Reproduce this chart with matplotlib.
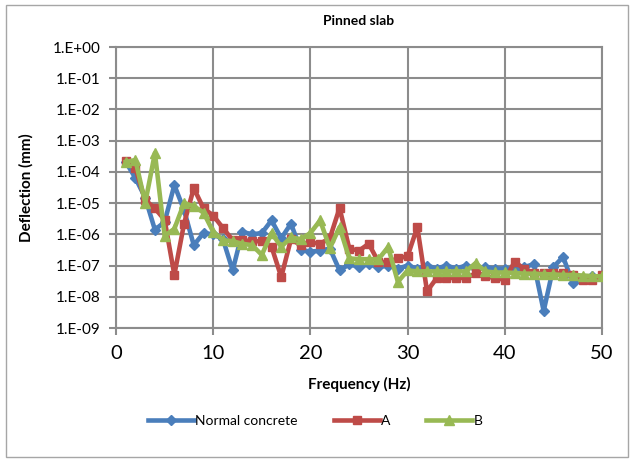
import math
import matplotlib
matplotlib.use('Agg')
import matplotlib.pyplot as plt
from matplotlib.patches import Rectangle
from matplotlib.ticker import FixedLocator, FuncFormatter

plt.rcParams['font.family'] = ['Lato', 'DejaVu Sans']

# Frequency steps (Hz)
freq = list(range(1, 51))

# Deflection (mm) for each slab type
normal_concrete = [
    2.1e-4, 6.3e-5, 1.5e-5, 1.4e-6, 2.5e-6, 3.8e-5, 6e-6, 4.5e-7, 1.1e-6, 1.0e-6,
    7e-7, 7e-8, 1.2e-6, 1.0e-6, 1.1e-6, 2.8e-6, 7.5e-7, 2.2e-6, 3.2e-7, 2.8e-7,
    3e-7, 3.5e-7, 7e-8, 1.1e-7, 9e-8, 1.1e-7, 9e-8, 1e-7, 8e-8, 1e-7,
    8e-8, 1e-7, 8e-8, 1e-7, 8e-8, 1e-7, 8e-8, 9e-8, 8e-8, 8e-8,
    8e-8, 9e-8, 1.1e-7, 3.5e-9, 9e-8, 1.9e-7, 2.7e-8, 4e-8, 4.5e-8, 4.5e-8,
]
slab_a = [
    2.2e-4, 1.3e-4, 1.25e-5, 6.8e-6, 2.9e-6, 5e-8, 2.2e-6, 3e-5, 6.8e-6, 4e-6,
    1.6e-6, 6.5e-7, 6.5e-7, 6e-7, 6e-7, 4e-7, 4.3e-8, 7e-7, 4.5e-7, 5.5e-7,
    5e-7, 7.5e-7, 7e-6, 3.5e-7, 3e-7, 5e-7, 1.3e-7, 1.3e-7, 1.7e-7, 2e-7,
    1.7e-6, 1.5e-8, 4e-8, 4e-8, 4e-8, 4e-8, 5.6e-8, 4.5e-8, 4e-8, 3.5e-8,
    1.3e-7, 8e-8, 5.6e-8, 5.6e-8, 5.6e-8, 5.6e-8, 5e-8, 3.5e-8, 3.5e-8, 5e-8,
]
slab_b = [
    2.1e-4, 2.4e-4, 1e-5, 4e-4, 9e-7, 1.5e-6, 1e-5, 8e-6, 5e-6, 1.2e-6,
    6.5e-7, 6e-7, 5e-7, 4.5e-7, 2.2e-7, 1.1e-6, 4e-7, 8e-7, 7e-7, 1.1e-6,
    2.8e-6, 3.6e-7, 1.7e-6, 1.7e-7, 1.6e-7, 1.6e-7, 1.6e-7, 3.9e-7, 3e-8, 7e-8,
    6.5e-8, 6.5e-8, 6.5e-8, 6.5e-8, 6.5e-8, 6.5e-8, 1.2e-7, 6.5e-8, 6e-8, 6e-8,
    5.8e-8, 5.5e-8, 5.5e-8, 5.3e-8, 5.2e-8, 5e-8, 5e-8, 4.8e-8, 4.6e-8, 4.5e-8,
]

x_ticks = [0, 10, 20, 30, 40, 50]
y_exponents = list(range(-9, 1))

grid_col = '#8c8c8c'

fig = plt.figure(figsize=(6.33, 4.61), dpi=100)
ax = fig.add_axes([0.1833, 0.2885, 0.7677, 0.6095])

# Outer chart frame
fig.patches.append(Rectangle((0.01, 0.008), 0.982, 0.982, transform=fig.transFigure,
                             fill=False, edgecolor='#a6a6a6', lw=1.0))

ax.plot(freq, normal_concrete, color='#4a7ebb', lw=3.3, marker='D', ms=5,
        label='Normal concrete', zorder=3)
ax.plot(freq, slab_a, color='#be4b48', lw=3.3, marker='s', ms=5.5,
        label='A', zorder=3)
ax.plot(freq, slab_b, color='#98b954', lw=3.3, marker='^', ms=6.5,
        label='B', zorder=3)

ax.set_yscale('log')
ax.set_ylim(1e-9, 1)
ax.set_xlim(0, 50)
ax.yaxis.set_major_locator(FixedLocator([10.0 ** e for e in y_exponents]))
ax.yaxis.set_minor_locator(FixedLocator([]))
ax.yaxis.set_major_formatter(FuncFormatter(lambda v, p: '1.E%+03d' % round(math.log10(v))))
ax.set_xticks(x_ticks)

ax.grid(True, color=grid_col, lw=1.5)
ax.set_axisbelow(True)
for s in ax.spines.values():
    s.set_color(grid_col)
    s.set_linewidth(1.5)
ax.tick_params(axis='y', colors=grid_col, labelcolor='black', labelsize=11,
               length=5, width=1.5, direction='out', pad=6)
ax.tick_params(axis='x', colors=grid_col, labelcolor='black', labelsize=14.5,
               length=5, width=1.5, direction='out', pad=7)

ax.set_title('Pinned slab', fontsize=10, fontweight='bold', pad=16)
ax.set_xlabel('Frequency (Hz)', fontsize=11, fontweight='bold', labelpad=11)
ax.set_ylabel('Deflection (mm)', fontsize=11, fontweight='bold', labelpad=14)

ax.legend(loc='upper center', bbox_to_anchor=(0.41, -0.265), ncol=3, frameon=False,
          fontsize=10, handlelength=3.3, columnspacing=2.6, handletextpad=0.1)

fig.savefig('out.png', dpi=100)
